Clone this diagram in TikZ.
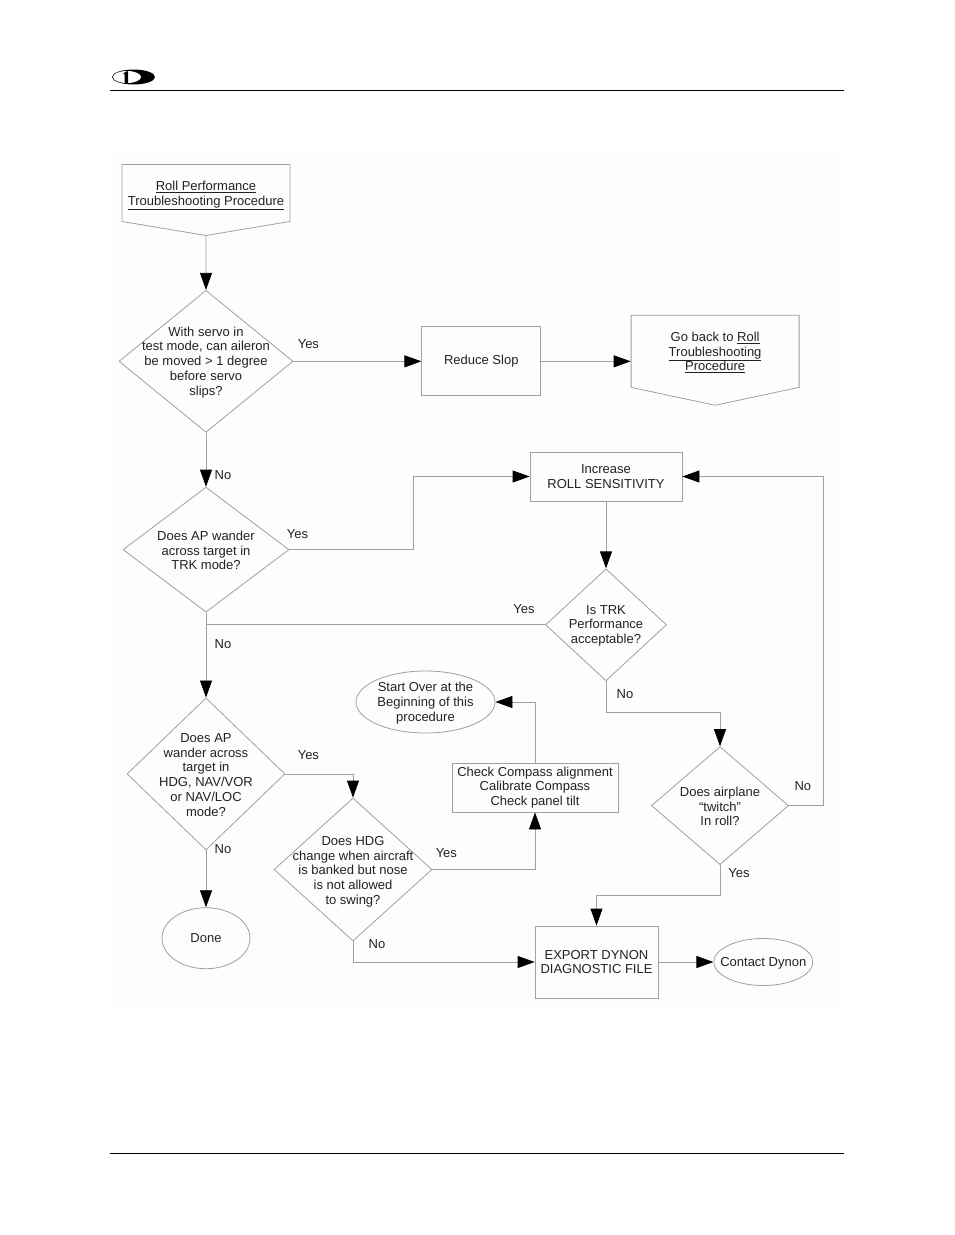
\documentclass[tikz,border=0pt]{standalone}
\usepackage{fontspec}
\setmainfont{Liberation Sans}
\usetikzlibrary{positioning,shapes,arrows.meta}
\definecolor{linegray}{HTML}{A0A0A0}
\definecolor{textgray}{HTML}{222222}
\definecolor{scangray}{HTML}{FDFDFD}

\begin{document}
\begin{tikzpicture}[
    x=1pt,
    y=-1pt,
    >={Triangle[length=17pt,width=12pt,black]},
    every node/.style={font=\fontsize{13}{14.7}\selectfont, text=textgray},
    txt/.style={align=center, inner sep=0pt, yshift=-1pt},
    lbl/.style={inner sep=0pt},
    line/.style={draw=linegray, line width=0.8pt},
    process/.style={
        rectangle,
        line,
        align=center,
        inner sep=0pt
    },
    decision/.style={
        diamond,
        line,
        inner sep=0pt
    },
    term/.style={
        ellipse,
        line,
        align=center,
        inner sep=0pt
    },
    offpage/.style={
        signal,
        signal to=south,
        line,
        align=center,
        inner sep=0pt,
        text depth=0pt
    }
]
    \useasboundingbox (0,0) rectangle (954,1235);
    \fill[scangray] (112,150) rectangle (840,1005);

    % Page header and footer
    \draw[black, line width=1pt] (110,90.5) -- (844,90.5);
    \draw[black, line width=1pt] (110,1153.5) -- (844,1153.5);
    \fill[black] (133.5,77) ellipse [x radius=21.5, y radius=7.5];
    \fill[white] (127,77) ellipse [x radius=14, y radius=6];
    \fill[black] (123,74) -- (125,72) -- (128,71) -- (128,83) -- (124.5,83) -- (124.5,74) -- cycle;

    % Left column
    \node[offpage, minimum width=168pt, minimum height=70pt, signal pointer angle=161] (roll) at (206,193) {\underline{Roll Performance}\\\underline{Troubleshooting Procedure}};
    \node[decision, minimum width=174pt, minimum height=142pt, label={[txt]center:{With servo in\\test mode, can aileron\\be moved > 1 degree\\before servo\\slips?}}] (servo) [below=54pt of roll] {};
    \node[decision, minimum width=166pt, minimum height=125pt, label={[txt]center:{Does AP wander\\across target in\\TRK mode?}}] (wander) [below=54pt of servo] {};
    \node[decision, minimum width=158pt, minimum height=152pt, label={[txt]center:{Does AP\\wander across\\target in\\HDG, NAV/VOR\\or NAV/LOC\\mode?}}] (apmode) [below=85pt of wander] {};
    \node[term, minimum width=88pt, minimum height=61pt] (done) [below=57pt of apmode] {Done};

    % Top row
    \node[process, minimum width=119pt, minimum height=69pt] (slop) [right=128pt of servo] {Reduce Slop};
    \node[offpage, minimum width=168pt, minimum height=82pt, signal pointer angle=156] (goback) [right=89.5pt of slop, yshift=10pt] {Go back to \underline{Roll}\\\underline{Troubleshooting}\\\underline{Procedure}};

    % Right column
    \node[process, minimum width=152pt, minimum height=49pt] (inc) at (606,476.5) {Increase\\ROLL SENSITIVITY};
    \node[decision, minimum width=121pt, minimum height=112pt, label={[txt]center:{Is TRK\\Performance\\acceptable?}}] (trk) [below=67pt of inc] {};
    \node[decision, minimum width=137pt, minimum height=118pt, label={[txt]center:{Does airplane\\“twitch”\\In roll?}}] (twitch) [below=65pt of trk, xshift=114pt] {};

    % Middle
    \node[decision, minimum width=158pt, minimum height=143pt, label={[txt, yshift=-1pt]center:{Does HDG\\change when aircraft\\is banked but nose\\is not allowed\\to swing?}}] (hdg) at (353,869.5) {};
    \node[process, minimum width=166pt, minimum height=49pt] (check) at (535,787.5) {Check Compass alignment\\Calibrate Compass\\Check panel tilt};
    \node[term, minimum width=139pt, minimum height=62pt, label={[txt]center:{Start Over at the\\Beginning of this\\procedure}}] (start) at (425.5,702) {};
    \node[process, minimum width=123pt, minimum height=72pt] (export) at (596.5,962) {EXPORT DYNON\\DIAGNOSTIC FILE};
    \node[term, minimum width=99pt, minimum height=47pt, label={[txt]center:{Contact Dynon}}] (contact) [right=55pt of export] {};

    % Transitions
    \draw[line, ->] (roll) -- (servo);
    \draw[line, ->] (servo) -- (slop) node[lbl, pos=0.117, yshift=17pt] {Yes};
    \draw[line, ->] (slop) -- (slop -| goback.west);
    \draw[line, ->] (servo) -- (wander) node[lbl, pos=0.78, xshift=17pt] {No};
    \draw[line, ->] (wander.east) -- node[lbl, pos=0.065, yshift=16pt] {Yes} ++(124,0) |- (inc.west);
    \draw[line, ->] (wander) -- (apmode) node[lbl, pos=0.37, xshift=17pt] {No};
    \draw[line, ->] (apmode) -- (done) node[lbl, pos=0, xshift=17pt, yshift=1pt] {No};
    \draw[line, ->] (apmode.east) -| node[lbl, pos=0.17, yshift=19pt] {Yes} (hdg.north);
    \draw[line, ->] (hdg.east) -| node[lbl, pos=0.068, yshift=16pt] {Yes} (check.south);
    \draw[line, ->] (check.north) |- (start.east);
    \draw[line, ->] (hdg.south) |- (export.west) node[lbl, pos=0, xshift=24pt, yshift=-3pt] {No};
    \draw[line, ->] (inc) -- (trk);
    \draw[line] (trk.west) -- (trk.west -| wander.south) node[lbl, pos=0.062, yshift=16pt] {Yes};
    \draw[line, ->] (trk.south) -- node[lbl, pos=0.4, xshift=19pt] {No} ++(0,31) -| (twitch.north);
    \draw[line, ->] (twitch.south) -- node[lbl, pos=0.27, xshift=19pt] {Yes} ++(0,30) -| (export.north);
    \draw[line, ->] (twitch.east) -- node[lbl, pos=0.41, yshift=20pt] {No} ++(34,0) |- (inc.east);
    \draw[line, ->] (export) -- (contact);
\end{tikzpicture}
\end{document}
